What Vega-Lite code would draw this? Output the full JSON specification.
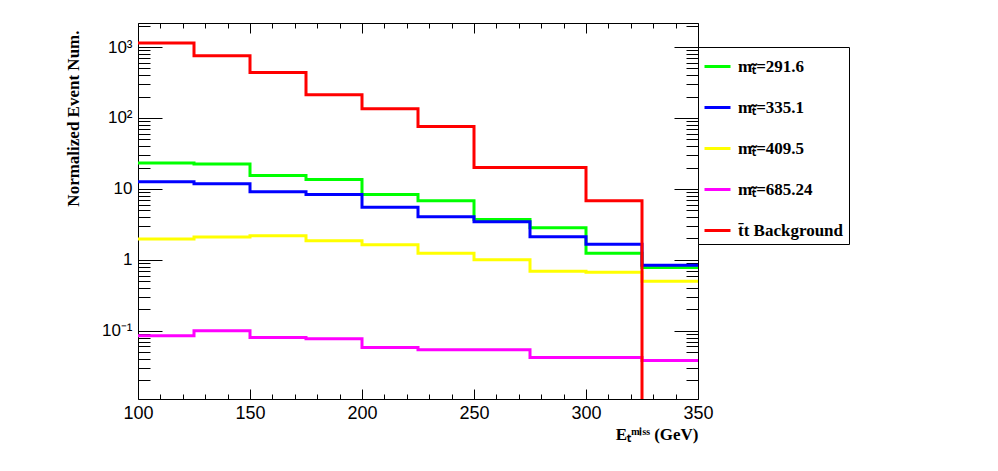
{
  "$schema": "https://vega.github.io/schema/vega-lite/v6.json",
  "width": 560,
  "height": 376,
  "autosize": {"type": "none"},
  "padding": {"left": 138, "top": 23, "right": 300, "bottom": 72},
  "background": "white",
  "data": {
    "values": [
      {"series": "m\u209c\u0303=291.6", "x": 100, "y": 23.2},
      {"series": "m\u209c\u0303=291.6", "x": 125, "y": 22.5},
      {"series": "m\u209c\u0303=291.6", "x": 150, "y": 15.4},
      {"series": "m\u209c\u0303=291.6", "x": 175, "y": 13.5},
      {"series": "m\u209c\u0303=291.6", "x": 200, "y": 8.3},
      {"series": "m\u209c\u0303=291.6", "x": 225, "y": 6.8},
      {"series": "m\u209c\u0303=291.6", "x": 250, "y": 3.7},
      {"series": "m\u209c\u0303=291.6", "x": 275, "y": 2.83},
      {"series": "m\u209c\u0303=291.6", "x": 300, "y": 1.24},
      {"series": "m\u209c\u0303=291.6", "x": 325, "y": 0.78},
      {"series": "m\u209c\u0303=291.6", "x": 350, "y": 0.78},
      {"series": "m\u209c\u0303=335.1", "x": 100, "y": 12.6},
      {"series": "m\u209c\u0303=335.1", "x": 125, "y": 11.8},
      {"series": "m\u209c\u0303=335.1", "x": 150, "y": 9.1},
      {"series": "m\u209c\u0303=335.1", "x": 175, "y": 8.3},
      {"series": "m\u209c\u0303=335.1", "x": 200, "y": 5.5},
      {"series": "m\u209c\u0303=335.1", "x": 225, "y": 4.04},
      {"series": "m\u209c\u0303=335.1", "x": 250, "y": 3.43},
      {"series": "m\u209c\u0303=335.1", "x": 275, "y": 2.11},
      {"series": "m\u209c\u0303=335.1", "x": 300, "y": 1.66},
      {"series": "m\u209c\u0303=335.1", "x": 325, "y": 0.84},
      {"series": "m\u209c\u0303=335.1", "x": 350, "y": 0.84},
      {"series": "m\u209c\u0303=409.5", "x": 100, "y": 1.96},
      {"series": "m\u209c\u0303=409.5", "x": 125, "y": 2.09},
      {"series": "m\u209c\u0303=409.5", "x": 150, "y": 2.18},
      {"series": "m\u209c\u0303=409.5", "x": 175, "y": 1.85},
      {"series": "m\u209c\u0303=409.5", "x": 200, "y": 1.63},
      {"series": "m\u209c\u0303=409.5", "x": 225, "y": 1.24},
      {"series": "m\u209c\u0303=409.5", "x": 250, "y": 1.0},
      {"series": "m\u209c\u0303=409.5", "x": 275, "y": 0.69},
      {"series": "m\u209c\u0303=409.5", "x": 300, "y": 0.67},
      {"series": "m\u209c\u0303=409.5", "x": 325, "y": 0.5},
      {"series": "m\u209c\u0303=409.5", "x": 350, "y": 0.5},
      {"series": "m\u209c\u0303=685.24", "x": 100, "y": 0.085},
      {"series": "m\u209c\u0303=685.24", "x": 125, "y": 0.1},
      {"series": "m\u209c\u0303=685.24", "x": 150, "y": 0.08},
      {"series": "m\u209c\u0303=685.24", "x": 175, "y": 0.077},
      {"series": "m\u209c\u0303=685.24", "x": 200, "y": 0.058},
      {"series": "m\u209c\u0303=685.24", "x": 225, "y": 0.054},
      {"series": "m\u209c\u0303=685.24", "x": 250, "y": 0.054},
      {"series": "m\u209c\u0303=685.24", "x": 275, "y": 0.042},
      {"series": "m\u209c\u0303=685.24", "x": 300, "y": 0.042},
      {"series": "m\u209c\u0303=685.24", "x": 325, "y": 0.038},
      {"series": "m\u209c\u0303=685.24", "x": 350, "y": 0.038},
      {"series": "t\u0304t Background", "x": 100, "y": 1138},
      {"series": "t\u0304t Background", "x": 125, "y": 753},
      {"series": "t\u0304t Background", "x": 150, "y": 438},
      {"series": "t\u0304t Background", "x": 175, "y": 213},
      {"series": "t\u0304t Background", "x": 200, "y": 135},
      {"series": "t\u0304t Background", "x": 225, "y": 75.7},
      {"series": "t\u0304t Background", "x": 250, "y": 20},
      {"series": "t\u0304t Background", "x": 275, "y": 20},
      {"series": "t\u0304t Background", "x": 300, "y": 6.8},
      {"series": "t\u0304t Background", "x": 325, "y": 0.001},
      {"series": "t\u0304t Background", "x": 350, "y": 0.001}
    ]
  },
  "layer": [
    {
      "mark": {"type": "line", "opacity": 0},
      "encoding": {
        "x": {"field": "x", "type": "quantitative",
          "axis": {"orient": "top", "values": [100, 150, 200, 250, 300, 350], "labels": false, "title": null, "domain": false, "grid": false, "tickSize": -10, "tickColor": "black"}},
        "y": {"field": "y", "type": "quantitative",
          "axis": {"orient": "right", "values": [0.1, 1, 10, 100, 1000], "labels": false, "title": null, "domain": false, "grid": false, "tickSize": -24, "tickColor": "black"}}
      }
    },
    {
      "mark": {"type": "line", "opacity": 0},
      "encoding": {
        "x": {"field": "x", "type": "quantitative",
          "axis": {"orient": "bottom", "values": [110, 120, 130, 140, 160, 170, 180, 190, 210, 220, 230, 240, 260, 270, 280, 290, 310, 320, 330, 340], "labels": false, "title": null, "domain": false, "grid": false, "tickSize": -5, "tickColor": "black"}},
        "y": {"field": "y", "type": "quantitative",
          "axis": {"orient": "left", "values": [0.02, 0.03, 0.04, 0.05, 0.06, 0.07, 0.08, 0.09, 0.2, 0.3, 0.4, 0.5, 0.6, 0.7, 0.8, 0.9, 2, 3, 4, 5, 6, 7, 8, 9, 20, 30, 40, 50, 60, 70, 80, 90, 200, 300, 400, 500, 600, 700, 800, 900, 2000], "labels": false, "title": null, "domain": false, "grid": false, "tickSize": -12, "tickColor": "black"}}
      }
    },
    {
      "mark": {"type": "line", "opacity": 0},
      "encoding": {
        "x": {"field": "x", "type": "quantitative",
          "axis": {"orient": "top", "values": [110, 120, 130, 140, 160, 170, 180, 190, 210, 220, 230, 240, 260, 270, 280, 290, 310, 320, 330, 340], "labels": false, "title": null, "domain": false, "grid": false, "tickSize": -5, "tickColor": "black"}},
        "y": {"field": "y", "type": "quantitative",
          "axis": {"orient": "right", "values": [0.02, 0.03, 0.04, 0.05, 0.06, 0.07, 0.08, 0.09, 0.2, 0.3, 0.4, 0.5, 0.6, 0.7, 0.8, 0.9, 2, 3, 4, 5, 6, 7, 8, 9, 20, 30, 40, 50, 60, 70, 80, 90, 200, 300, 400, 500, 600, 700, 800, 900, 2000], "labels": false, "title": null, "domain": false, "grid": false, "tickSize": -12, "tickColor": "black"}}
      }
    },
    {
      "mark": {"type": "line", "interpolate": "step-after", "strokeWidth": 3, "clip": true},
      "encoding": {
        "x": {"field": "x", "type": "quantitative",
          "scale": {"domain": [100, 350], "nice": false, "zero": false},
          "axis": {"orient": "bottom", "values": [100, 150, 200, 250, 300, 350], "format": "d", "domain": false, "grid": false, "tickSize": -10, "tickColor": "black",
            "labelFont": "Liberation Sans", "labelFontSize": 18, "labelColor": "black", "labelPadding": 15, "labelFlush": false,
            "title": "E\u209c\u1d50\u2071\u02e2\u02e2 (GeV)", "titleFont": "Liberation Serif", "titleFontWeight": "bold", "titleFontSize": 17, "titleColor": "black", "titleAnchor": "end", "titlePadding": 4}},
        "y": {"field": "y", "type": "quantitative",
          "scale": {"type": "log", "domain": [0.0109, 2180], "nice": false},
          "axis": {"orient": "left", "values": [0.1, 1, 10, 100, 1000], "domain": false, "grid": false, "tickSize": -24, "tickColor": "black",
            "labelExpr": "datum.value >= 1000 ? '10\u00b3' : datum.value >= 100 ? '10\u00b2' : datum.value >= 10 ? '10' : datum.value >= 1 ? '1' : '10\u207b\u00b9'",
            "labelFont": "Liberation Sans", "labelFontSize": 17, "labelColor": "black", "labelPadding": 30,
            "title": "Normalized Event Num.", "titleFont": "Liberation Serif", "titleFontWeight": "bold", "titleFontSize": 17, "titleColor": "black", "titleAnchor": "end", "titleY": 7, "titlePadding": 19}},
        "color": {"field": "series", "type": "nominal",
          "scale": {
            "domain": ["m\u209c\u0303=291.6", "m\u209c\u0303=335.1", "m\u209c\u0303=409.5", "m\u209c\u0303=685.24", "t\u0304t Background"],
            "range": ["#00ff00", "#0000ff", "#ffff00", "#ff00ff", "#ff0000"]},
          "legend": {"title": null, "orient": "none", "legendX": 560, "legendY": 24,
            "symbolType": "stroke", "symbolSize": 676, "symbolStrokeWidth": 3,
            "labelFont": "Liberation Serif", "labelFontWeight": "bold", "labelFontSize": 17, "labelColor": "black", "labelOffset": 6,
            "rowPadding": 18, "padding": 5, "strokeColor": "black", "fillColor": "white"}}
      }
    }
  ],
  "resolve": {"axis": {"x": "independent", "y": "independent"}},
  "config": {
    "view": {"stroke": "black", "strokeWidth": 1},
    "axis": {"ticks": true}
  }
}
